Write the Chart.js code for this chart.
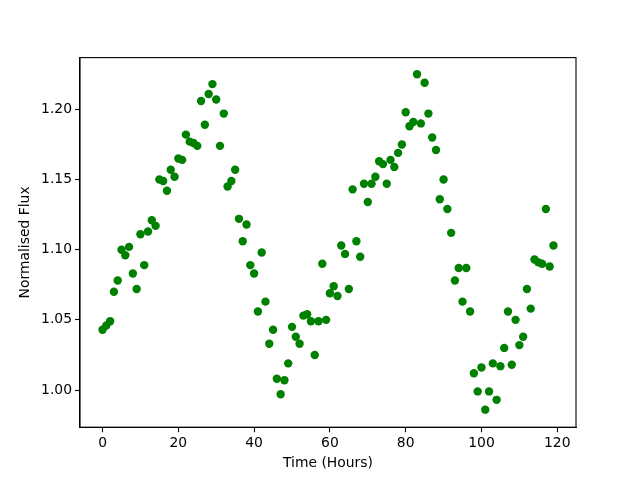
<!DOCTYPE html>
<html lang="en">
<head>
  <meta charset="UTF-8">
  <title>Normalised Flux vs Time</title>
  <script src="https://cdn.jsdelivr.net/npm/chart.js"></script>
  <style>
    html, body { margin: 0; padding: 0; background: #fff; }
    canvas { display: block; }
  </style>
</head>
<body>
  <canvas id="fluxChart" width="640" height="480"></canvas>

  <script>
    // hourly samples
    const hours = [
      0, 1, 2, 3, 4, 5, 6, 7, 8, 9, 10, 11, 12, 13, 14, 15, 16, 17, 18, 19,
      20, 21, 22, 23, 24, 25, 26, 27, 28, 29, 30, 31, 32, 33, 34, 35, 36, 37, 38, 39,
      40, 41, 42, 43, 44, 45, 46, 47, 48, 49, 50, 51, 52, 53, 54, 55, 56, 57, 58, 59,
      60, 61, 62, 63, 64, 65, 66, 67, 68, 69, 70, 71, 72, 73, 74, 75, 76, 77, 78, 79,
      80, 81, 82, 83, 84, 85, 86, 87, 88, 89, 90, 91, 92, 93, 94, 95, 96, 97, 98, 99,
      100, 101, 102, 103, 104, 105, 106, 107, 108, 109, 110, 111, 112, 113, 114, 115, 116, 117, 118, 119
    ];
    const flux = [
      1.043, 1.046, 1.049, 1.070, 1.078, 1.100, 1.096, 1.102, 1.083, 1.072,
      1.111, 1.089, 1.113, 1.121, 1.117, 1.150, 1.149, 1.142, 1.157, 1.152,
      1.165, 1.164, 1.182, 1.177, 1.176, 1.174, 1.206, 1.189, 1.211, 1.218,
      1.207, 1.174, 1.197, 1.145, 1.149, 1.157, 1.122, 1.106, 1.118, 1.089,
      1.083, 1.056, 1.098, 1.063, 1.033, 1.043, 1.008, 0.997, 1.007, 1.019,
      1.045, 1.038, 1.033, 1.053, 1.054, 1.049, 1.025, 1.049, 1.090, 1.050,
      1.069, 1.074, 1.067, 1.103, 1.097, 1.072, 1.143, 1.106, 1.095, 1.147,
      1.134, 1.147, 1.152, 1.163, 1.161, 1.147, 1.164, 1.159, 1.169, 1.175,
      1.198, 1.188, 1.191, 1.225, 1.190, 1.219, 1.197, 1.180, 1.171, 1.136,
      1.150, 1.129, 1.112, 1.078, 1.087, 1.063, 1.087, 1.056, 1.012, 0.999,
      1.016, 0.986, 0.999, 1.019, 0.993, 1.017, 1.030, 1.056, 1.018, 1.050,
      1.032, 1.038, 1.072, 1.058, 1.093, 1.091, 1.090, 1.129, 1.088, 1.103
    ];
    const xTicks = [0, 20, 40, 60, 80, 100, 120];
    const yTicks = [1.00, 1.05, 1.10, 1.15, 1.20];

    const FONT = { family: 'DejaVu Sans', size: 13.9 };

    // matplotlib draws a full box round the axes
    const boxPlugin = {
      id: 'box',
      afterDraw(chart) {
        const a = chart.chartArea;
        const ctx = chart.ctx;
        ctx.save();
        ctx.strokeStyle = '#000';
        ctx.lineWidth = 1.1;
        ctx.strokeRect(a.left, a.top, a.right - a.left, a.bottom - a.top);
        ctx.restore();
      }
    };

    new Chart(document.getElementById('fluxChart'), {
      type: 'scatter',
      data: {
        datasets: [{
          data: hours.map((h, i) => ({ x: h, y: flux[i] })),
          backgroundColor: '#008000',
          borderColor: '#008000',
          pointRadius: 4.2,
          pointBorderWidth: 0
        }]
      },
      options: {
        responsive: false,
        animation: false,
        layout: { padding: { left: 0, right: 64, top: 57.6, bottom: 0 } },
        plugins: { legend: { display: false }, tooltip: { enabled: false } },
        scales: {
          x: {
            type: 'linear',
            min: -5.95,
            max: 124.95,
            afterBuildTicks: s => { s.ticks = xTicks.map(v => ({ value: v })); },
            afterFit: s => { s.height = 52.8; },
            grid: { drawOnChartArea: false, color: '#000', tickLength: 5, tickWidth: 1.1 },
            border: { color: '#000', width: 1.1 },
            ticks: { color: '#000', font: FONT, padding: 3, maxRotation: 0 },
            title: {
              display: true, text: 'Time (Hours)', color: '#000', font: FONT,
              padding: { top: 0, bottom: 8 }
            }
          },
          y: {
            type: 'linear',
            min: 0.9735,
            max: 1.2369,
            afterBuildTicks: s => { s.ticks = yTicks.map(v => ({ value: v })); },
            afterFit: s => { s.width = 80; },
            grid: { drawOnChartArea: false, color: '#000', tickLength: 5, tickWidth: 1.1 },
            border: { color: '#000', width: 1.1 },
            ticks: { color: '#000', font: FONT, padding: 3, callback: v => v.toFixed(2) },
            title: {
              display: true, text: 'Normalised Flux', color: '#000', font: FONT,
              padding: { top: 17, bottom: 0 }
            }
          }
        }
      },
      plugins: [boxPlugin]
    });
  </script>
</body>
</html>
